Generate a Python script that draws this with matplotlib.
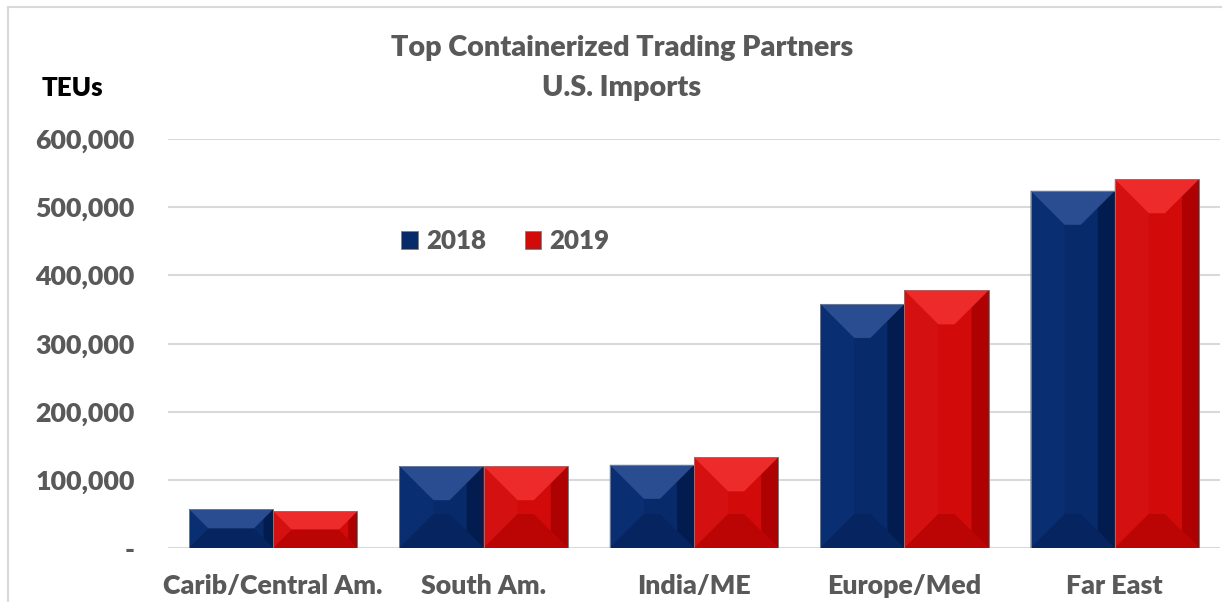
import numpy as np
import matplotlib.pyplot as plt
from matplotlib.patches import Polygon, Patch
from matplotlib.lines import Line2D
from matplotlib.ticker import FuncFormatter

## data
regions = ["Carib/Central Am.", "South Am.", "India/ME", "Europe/Med", "Far East"]
teu_2018 = [57000, 120000, 122000, 358000, 524000]
teu_2019 = [54000, 120000, 133000, 378000, 541000]
years = ["2018", "2019"]

GRAY = "#595959"
WT = "heavy"
plt.rcParams['font.family'] = ['Lato', 'DejaVu Sans']
plt.rcParams['font.weight'] = WT

fig = plt.figure(figsize=(12.22, 6.02), dpi=100)
ax = fig.add_axes([168/1222, 1 - 548/602, 1052/1222, (548 - 139)/602])

x = np.arange(len(regions))
w = 0.4
ymax = 600000
ax.set_xlim(-0.5, len(regions) - 0.5)
ax.set_ylim(0, ymax)

# pixel -> data conversion for the bevel
bbox = ax.get_position()
px_x = (len(regions)) / (bbox.width * 1222)
px_y = ymax / (bbox.height * 602)

styles = {
    "2018": dict(body="#072a6b", top="#2a4d92", left="#0a2e72", right="#031c50", bot="#062460"),
    "2019": dict(body="#d20a0a", top="#ee2b2b", left="#d41010", right="#ae0202", bot="#bb0404"),
}

def bevel_bar(xc, h, st):
    x0, x1 = xc - w / 2, xc + w / 2
    ax.bar(xc, h, w, color=st["body"], edgecolor="none", zorder=3)
    hp = h / px_y
    d = min(34, hp / 2)
    dx, dy = d * px_x, d * px_y
    # side faces
    ax.add_patch(Polygon([(x0, h), (x0 + dx, h - dy), (x0 + dx, dy), (x0, 0)],
                         closed=True, facecolor=st["left"], edgecolor="none", zorder=4))
    ax.add_patch(Polygon([(x1, h), (x1 - dx * 0.5, h - dy * 0.5), (x1 - dx * 0.5, dy * 0.5), (x1, 0)],
                         closed=True, facecolor=st["right"], edgecolor="none", zorder=4))
    # top face
    ax.add_patch(Polygon([(x0, h), (x1, h), (x1 - dx, h - dy), (x0 + dx, h - dy)],
                         closed=True, facecolor=st["top"], edgecolor="none", zorder=4))
    # bottom face
    ax.add_patch(Polygon([(x0, 0), (x1, 0), (x1 - dx, dy), (x0 + dx, dy)],
                         closed=True, facecolor=st["bot"], edgecolor="none", zorder=4))
    # outline
    ax.add_patch(Polygon([(x0, 0), (x0, h), (x1, h), (x1, 0)], closed=True,
                         facecolor="none", edgecolor="#7a7a7a", linewidth=0.7, zorder=5))

for i in range(len(regions)):
    bevel_bar(x[i] - w / 2, teu_2018[i], styles["2018"])
    bevel_bar(x[i] + w / 2, teu_2019[i], styles["2019"])

ax.set_yticks(np.arange(0, ymax + 1, 100000))
ax.yaxis.set_major_formatter(FuncFormatter(lambda v, p: "-" if v == 0 else f"{int(v):,}"))
ax.grid(axis="y", color="#d9d9d9", linewidth=1.5, zorder=0)
ax.set_axisbelow(True)
for s in ax.spines.values():
    s.set_visible(False)
ax.tick_params(axis="both", length=0, labelsize=19.3, colors=GRAY)
ax.tick_params(axis="y", pad=24)
ax.set_xticks(x)
ax.set_xticklabels(regions)
ax.tick_params(axis="x", pad=19)
for lab in ax.get_xticklabels() + ax.get_yticklabels():
    lab.set_fontweight(WT)

fig.text(622/1222, 1 - 48/602, "Top Containerized Trading Partners", ha="center", va="center",
         fontsize=20.7, color=GRAY, fontweight=WT)
fig.text(622/1222, 1 - 88/602, "U.S. Imports", ha="center", va="center",
         fontsize=20.7, color=GRAY, fontweight=WT)
fig.text(42/1222, 1 - 88/602, "TEUs", ha="left", va="center",
         fontsize=18.6, color="black", fontweight=WT)

handles = [Patch(facecolor=styles[y]["body"], edgecolor="#7f7f7f", linewidth=0.6) for y in years]
leg = fig.legend(handles, years, loc="center left", bbox_to_anchor=(378/1222, 1 - 241/602),
                 ncol=2, frameon=False, handlelength=0.65, handleheight=0.65,
                 handletextpad=0.3, columnspacing=1.5, prop=dict(size=18.6, weight=WT))
for t in leg.get_texts():
    t.set_color(GRAY)

# chart border
fig.add_artist(Line2D([8/1222, 8/1222], [0, 1 - 7/602], color="#d9d9d9", linewidth=1.5))
fig.add_artist(Line2D([8/1222, 1], [1 - 7/602, 1 - 7/602], color="#d9d9d9", linewidth=1.5))

fig.savefig("out.png", dpi=100)
